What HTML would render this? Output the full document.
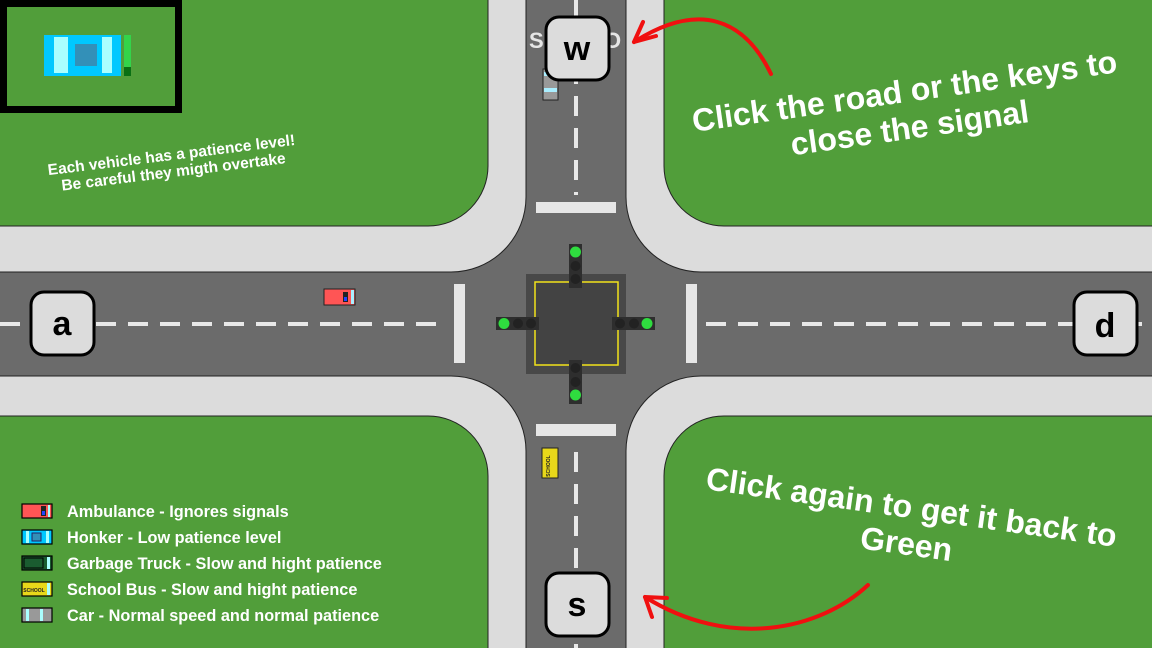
<!DOCTYPE html>
<html><head><style>
html,body{margin:0;padding:0;width:1152px;height:648px;overflow:hidden;background:#519e3a}
svg{display:block;position:absolute;left:0;top:0}
text{font-family:"Liberation Sans",sans-serif;font-weight:bold}
</style></head><body>
<svg width="1152" height="648" viewBox="0 0 1152 648">
<rect width="1152" height="648" fill="#519e3a"/>
<!-- sidewalks -->
<rect x="488" y="0" width="176" height="648" fill="#dcdcdc"/>
<rect x="0" y="226" width="1152" height="190" fill="#dcdcdc"/>
<rect x="420" y="160" width="310" height="320" fill="#dcdcdc"/>
<!-- roads -->
<rect x="526" y="0" width="100" height="648" fill="#6b6b6b"/>
<rect x="0" y="272" width="1152" height="104" fill="#6b6b6b"/>
<rect x="451" y="197" width="250" height="254" fill="#6b6b6b"/>
<g fill="#dcdcdc">
<circle cx="451" cy="197" r="75"/><circle cx="701" cy="197" r="75"/>
<circle cx="451" cy="451" r="75"/><circle cx="701" cy="451" r="75"/>
</g>
<g fill="none" stroke="#222" stroke-width="1">
<path d="M526 0 V197 A75 75 0 0 1 451 272 H0"/>
<path d="M626 0 V197 A75 75 0 0 0 701 272 H1152"/>
<path d="M526 648 V451 A75 75 0 0 0 451 376 H0"/>
<path d="M626 648 V451 A75 75 0 0 1 701 376 H1152"/>
</g>
<!-- green corners -->
<g fill="#519e3a" stroke="#222" stroke-width="1">
<rect x="-100" y="-100" width="588" height="326" rx="60"/>
<rect x="664" y="-100" width="600" height="326" rx="60"/>
<rect x="-100" y="416" width="588" height="340" rx="60"/>
<rect x="664" y="416" width="600" height="340" rx="60"/>
</g>
<!-- lane marks -->
<g stroke="#e8e8e8" stroke-width="4" stroke-dasharray="20 12">
<line x1="576" y1="0" x2="576" y2="195"/>
<line x1="576" y1="452" x2="576" y2="648"/>
<line x1="0" y1="324" x2="446" y2="324"/>
<line x1="706" y1="324" x2="1152" y2="324"/>
</g>
<g fill="#e6e6e6">
<rect x="536" y="202" width="80" height="11"/>
<rect x="536" y="424" width="80" height="12"/>
<rect x="454" y="284" width="11" height="79"/>
<rect x="686" y="284" width="11" height="79"/>
</g>
<g font-size="22" fill="#e6e6e6" font-weight="normal">
<text x="529" y="48">S</text><text x="604" y="48">O</text>
</g>
<!-- center -->
<rect x="526" y="274" width="100" height="100" fill="#484848"/>
<rect x="535" y="282" width="83" height="83" fill="#434343" stroke="#f2e21a" stroke-width="1.5"/>
<g fill="#2e2e2e">
<rect x="569" y="244" width="13" height="44"/><rect x="569" y="360" width="13" height="44"/>
<rect x="496" y="317" width="43" height="13"/><rect x="612" y="317" width="43" height="13"/>
</g>
<g fill="#222">
<circle cx="575.5" cy="266" r="5"/><circle cx="575.5" cy="279" r="5"/>
<circle cx="575.5" cy="368" r="5"/><circle cx="575.5" cy="382" r="5"/>
<circle cx="518" cy="323.5" r="5"/><circle cx="531" cy="323.5" r="5"/>
<circle cx="620" cy="323.5" r="5"/><circle cx="634" cy="323.5" r="5"/>
</g>
<g fill="#2fdc3f">
<circle cx="575.5" cy="252" r="5.5"/><circle cx="575.5" cy="395" r="5.5"/>
<circle cx="504" cy="323.5" r="5.5"/><circle cx="647" cy="323.5" r="5.5"/>
</g>
<!-- vehicles -->
<rect x="543" y="69" width="15" height="31" fill="#999" stroke="#222"/>
<rect x="544" y="72" width="13" height="4" fill="#aef"/><rect x="544" y="88" width="13" height="4" fill="#aef"/>
<rect x="324" y="289" width="31" height="16" fill="#f55" stroke="#222"/>
<rect x="343" y="292" width="5" height="10" fill="#222"/><rect x="344" y="297" width="3" height="4" fill="#24f"/>
<rect x="351" y="290" width="3" height="14" fill="#aef"/>
<rect x="542" y="448" width="16" height="30" fill="#e8d81a" stroke="#222"/>
<text x="550" y="466" font-size="5" fill="#222" text-anchor="middle" transform="rotate(-90 550 466)">SCHOOL</text>
<!-- keys -->
<g fill="#dcdcdc" stroke="#000" stroke-width="3">
<rect x="546" y="17" width="63" height="63" rx="13"/>
<rect x="31" y="292" width="63" height="63" rx="13"/>
<rect x="1074" y="292" width="63" height="63" rx="13"/>
<rect x="546" y="573" width="63" height="63" rx="13"/>
</g>
<g font-size="34" fill="#000" text-anchor="middle">
<text x="577" y="60">w</text><text x="62" y="335">a</text>
<text x="1105" y="337">d</text><text x="577" y="616">s</text>
</g>
<!-- minimap -->
<rect x="3.5" y="3.5" width="175" height="106" fill="#519e3a" stroke="#000" stroke-width="7"/>
<rect x="44" y="35" width="77" height="41" fill="#00c8ff"/>
<rect x="54" y="37" width="14" height="36" fill="#aff"/>
<rect x="102" y="37" width="10" height="36" fill="#aff"/>
<rect x="75" y="44" width="22" height="22" fill="#3390b8"/>
<rect x="124" y="35" width="7" height="32" fill="#33d44a"/>
<rect x="124" y="67" width="7" height="9" fill="#0a7014"/>
<!-- texts -->
<g fill="#fff" text-anchor="middle">
<text transform="translate(172,160) rotate(-7)" font-size="15.5"><tspan x="0" y="0">Each vehicle has a patience level!</tspan><tspan x="0" y="17">Be careful they migth overtake</tspan></text>
<text transform="translate(906,102) rotate(-8)" font-size="32"><tspan x="0" y="0">Click the road or the keys to</tspan><tspan x="0" y="37">close the signal</tspan></text>
<text transform="translate(910,518) rotate(8)" font-size="32"><tspan x="0" y="0">Click again to get it back to</tspan><tspan x="0" y="37">Green</tspan></text>
</g>
<!-- arrows -->
<g fill="none" stroke="#f01010" stroke-width="4" stroke-linecap="round">
<path d="M771 74 C745 20 700 0 634 42"/>
<path d="M634 42 L656 36 M634 42 L643 22"/>
<path d="M868 585 C820 630 730 650 645 597"/>
<path d="M645 597 L667 598 M645 597 L652 617"/>
</g>
<!-- legend -->
<g stroke="#000" stroke-width="1.2">
<rect x="22" y="504" width="30" height="14" fill="#f55"/>
<rect x="22" y="530" width="30" height="14" fill="#00c8ff"/>
<rect x="22" y="556" width="30" height="14" fill="#1a5c30"/>
<rect x="22" y="582" width="30" height="14" fill="#e8d81a"/>
<rect x="22" y="608" width="30" height="14" fill="#999"/>
</g>
<g fill="#aff">
<rect x="48" y="505" width="2" height="12"/><rect x="26" y="531" width="3" height="12"/><rect x="46" y="531" width="3" height="12"/>
<rect x="47" y="557" width="3" height="12"/><rect x="47" y="583" width="3" height="12"/>
<rect x="26" y="609" width="3" height="12"/><rect x="40" y="609" width="3" height="12"/>
</g>
<rect x="41" y="506" width="5" height="10" fill="#222"/><rect x="42" y="511" width="3" height="4" fill="#24f"/>
<rect x="32" y="533" width="9" height="8" fill="#3390b8" stroke="#226"/>
<rect x="24" y="558" width="19" height="10" fill="#1a5c30" stroke="#000"/>
<text x="34" y="592" font-size="5" fill="#222" text-anchor="middle">SCHOOL</text>
<g fill="#fff" font-size="16.3">
<text x="67" y="517">Ambulance - Ignores signals</text>
<text x="67" y="543">Honker - Low patience level</text>
<text x="67" y="569">Garbage Truck - Slow and hight patience</text>
<text x="67" y="595">School Bus - Slow and hight patience</text>
<text x="67" y="621">Car - Normal speed and normal patience</text>
</g>
</svg>
</body></html>
